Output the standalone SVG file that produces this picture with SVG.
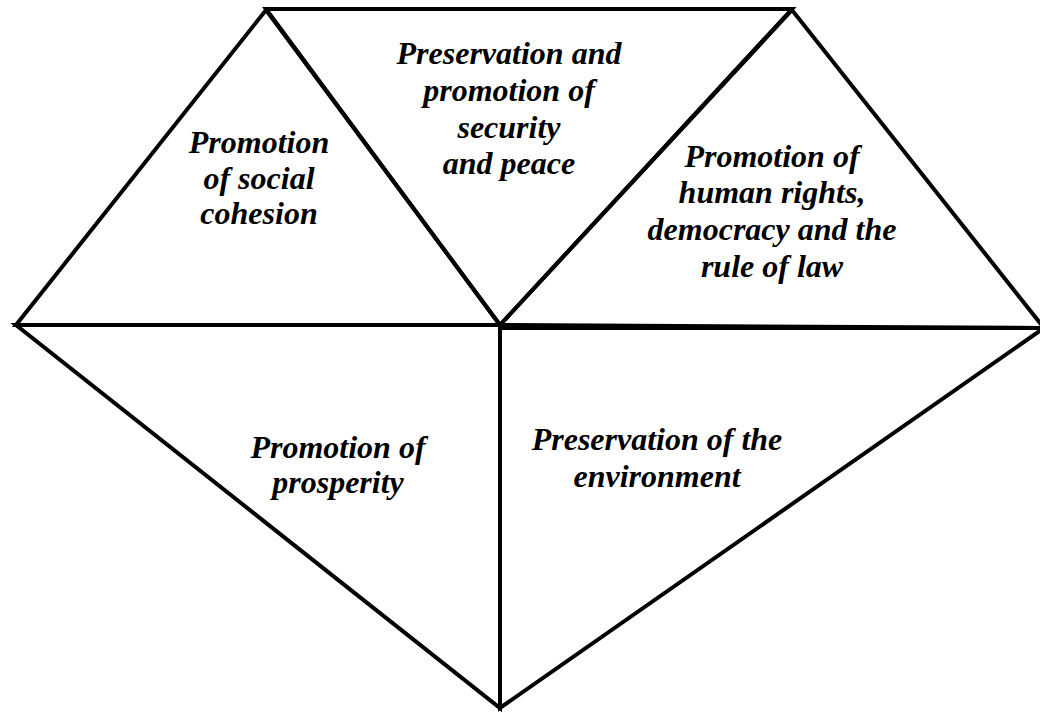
<svg xmlns="http://www.w3.org/2000/svg" width="1040" height="713" viewBox="0 0 1040 713">
  <style>
    .face { fill: none; stroke: #000; stroke-width: 4; stroke-linejoin: miter; stroke-miterlimit: 4; }
    .lbl { font-family: "Liberation Serif", "Times New Roman", serif; font-size: 32px; font-weight: bold; font-style: italic; fill: #000; text-anchor: middle; }
  </style>
  <rect width="1040" height="713" fill="#fff"/>

  <!-- outlines of the five faces -->
  <g id="edges">
    <polygon class="face" points="16,325 266,10 500,325"/>
    <polygon class="face" points="266,9 792,9 500,325"/>
    <polygon class="face" points="500,325 792,10 1044,328"/>
    <polygon class="face" points="16,325 500,325 500,708"/>
    <polygon class="face" points="500,328 1044,328 500,708"/>
  </g>

  <g id="social-cohesion">
    <text class="lbl" x="259" y="153">Promotion</text>
    <text class="lbl" x="259" y="189">of social</text>
    <text class="lbl" x="259" y="224">cohesion</text>
  </g>

  <g id="security-peace">
    <text class="lbl" x="509" y="64">Preservation and</text>
    <text class="lbl" x="509" y="101">promotion of</text>
    <text class="lbl" x="509" y="138">security</text>
    <text class="lbl" x="509" y="174">and peace</text>
  </g>

  <g id="human-rights">
    <text class="lbl" x="772" y="167">Promotion of</text>
    <text class="lbl" x="772" y="203">human rights,</text>
    <text class="lbl" x="772" y="240">democracy and the</text>
    <text class="lbl" x="772" y="277">rule of law</text>
  </g>

  <g id="prosperity">
    <text class="lbl" x="338" y="458">Promotion of</text>
    <text class="lbl" x="338" y="493">prosperity</text>
  </g>

  <g id="environment">
    <text class="lbl" x="657" y="450">Preservation of the</text>
    <text class="lbl" x="657" y="487">environment</text>
  </g>
</svg>
